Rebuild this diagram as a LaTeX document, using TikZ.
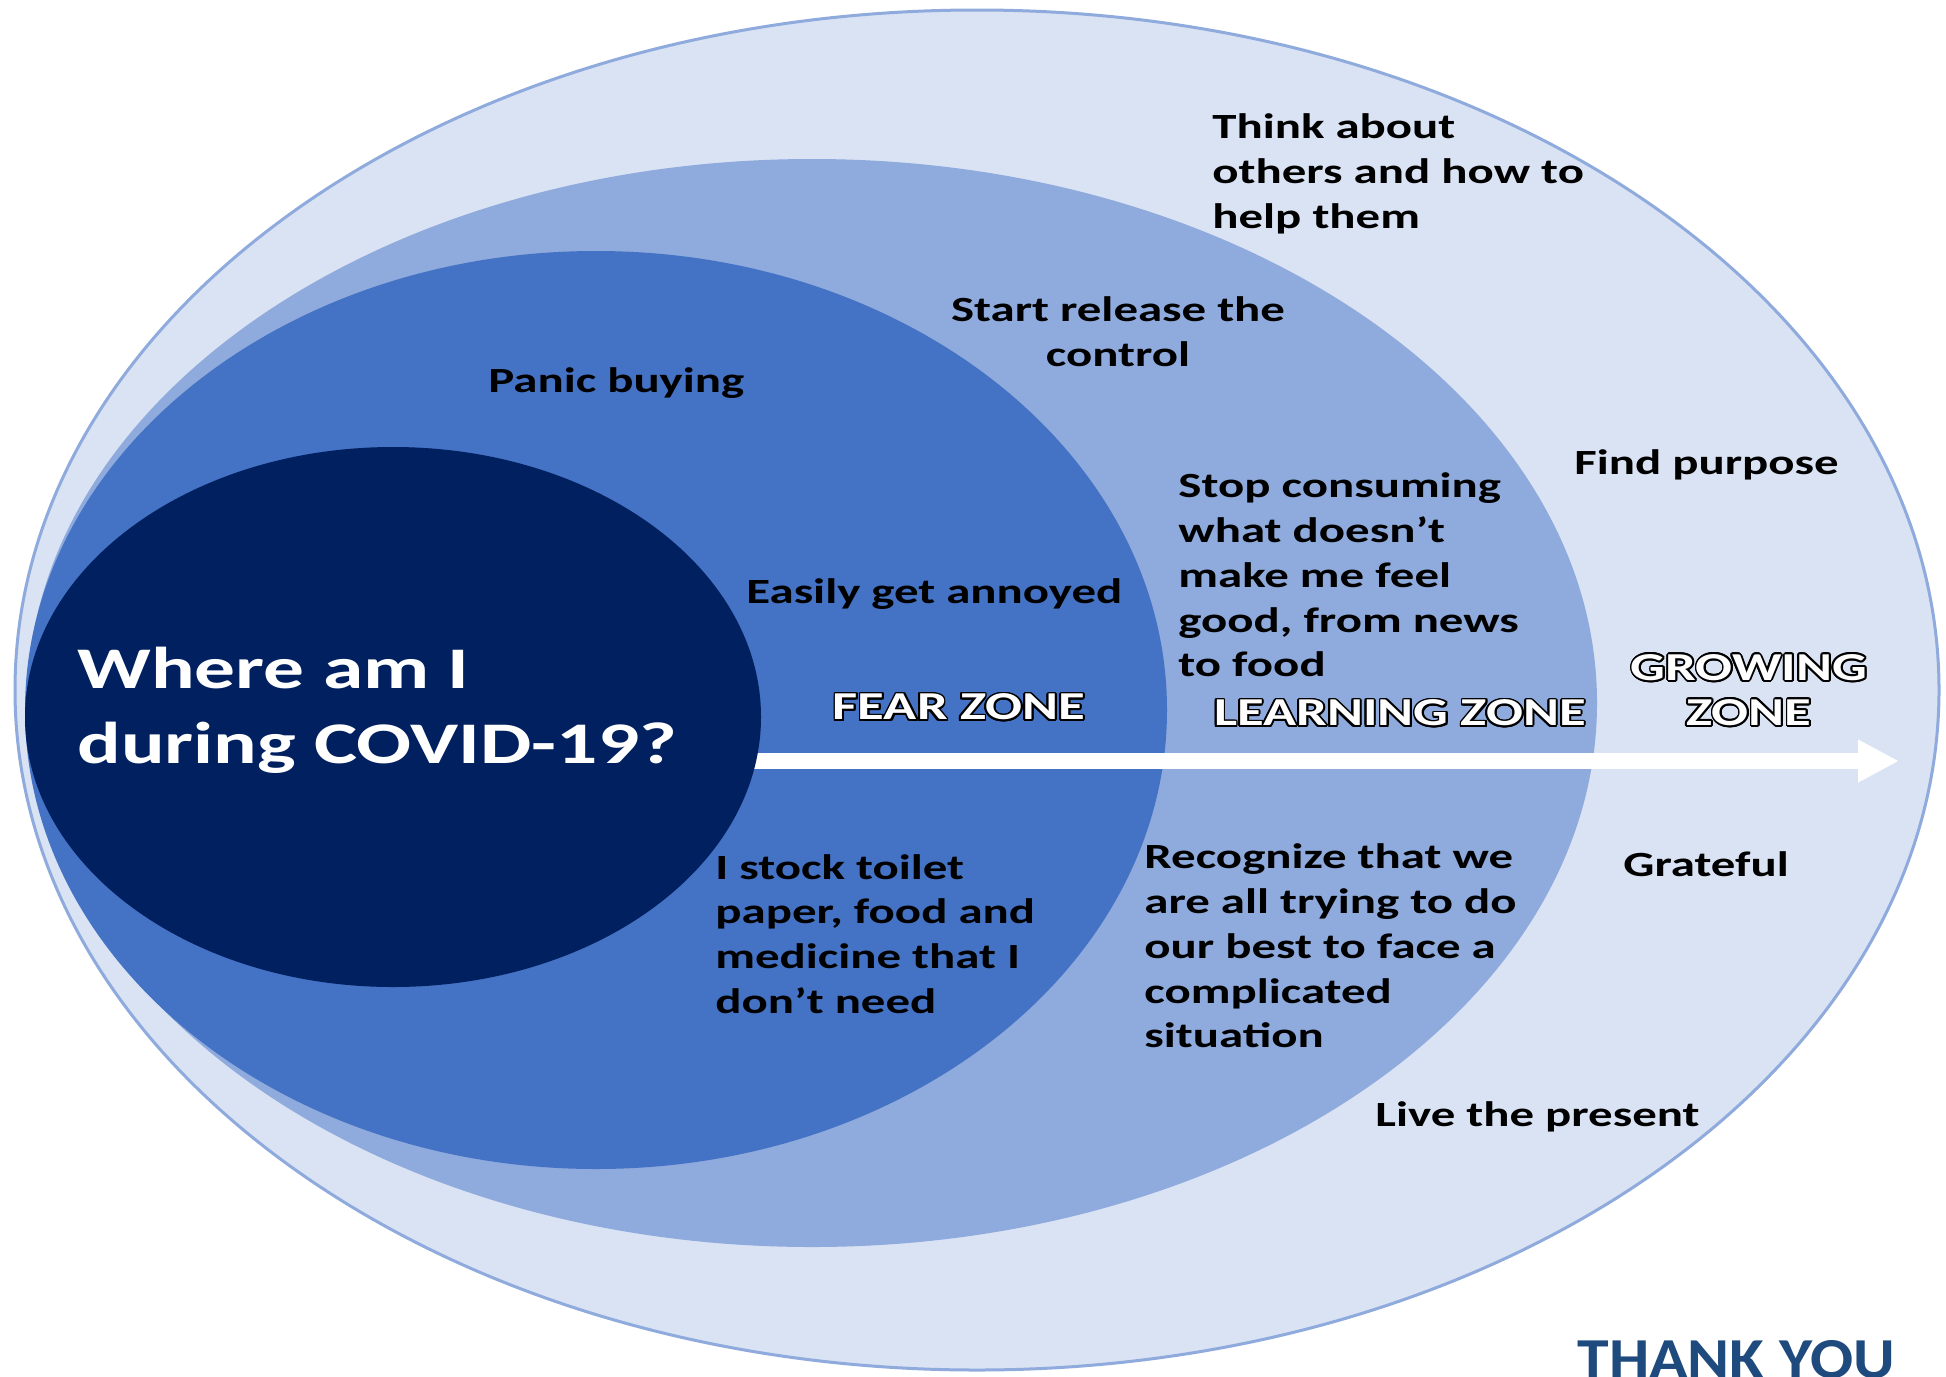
\documentclass[tikz,border=0pt]{standalone}
\usepackage{fontspec}
\setmainfont{Carlito}[FakeStretch=1.38]
\newfontfamily\tyfont{Carlito}[FakeStretch=1.1]
\usepackage{contour}
\contourlength{0.9pt}
\usetikzlibrary{shapes.geometric,arrows.meta}
\definecolor{outerc}{HTML}{DAE3F3}
\definecolor{learnc}{HTML}{8FAADC}
\definecolor{fearc}{HTML}{4472C4}
\definecolor{innerc}{HTML}{002060}
\definecolor{tyc}{RGB}{31,74,126}
\tikzset{
  zone/.style={ellipse, inner sep=0pt, draw=none},
  txt/.style={font=\bfseries\fontsize{17.7}{22.4}\selectfont, align=left, inner sep=0pt, anchor=west, text=black},
  ctxt/.style={txt, align=center, anchor=center},
  zlab/.style={font=\bfseries\fontsize{19.8}{22.4}\selectfont, align=center, inner sep=0pt, text=white},
  title/.style={font=\bfseries\fontsize{29.5}{37.5}\selectfont, align=left, inner sep=0pt, anchor=west, text=white},
  bigarrow/.style={draw=white, line width=8pt, -{Triangle[length=20.5pt,width=20pt]}}
}
\begin{document}
\begin{tikzpicture}[x=0.5pt,y=-0.5pt]
\clip (0,0) rectangle (1946,1376);
\fill[white] (0,0) rectangle (1946,1376);
% zones
\node[zone, fill=outerc, draw=learnc, line width=1.5pt, minimum width=962pt, minimum height=680pt] (grow) at (977,690) {};
\node[zone, fill=learnc, minimum width=785pt, minimum height=544pt] (learn) at (812,703) {};
\node[zone, fill=fearc, minimum width=571pt, minimum height=459pt] (fear) at (596,710) {};
\coordinate (tip) at (1899,761);
\draw[bigarrow] (fear.center |- tip) -- (tip);
\node[zone, fill=innerc, minimum width=368pt, minimum height=270pt] (inner) at (393,717) {};
% title
\node[title] (q) at (77,710) {Where am I\\during COVID-19?};
% texts
\node[txt] (think) at (1212,174) {Think about\\others and how to\\help them};
\node[ctxt] (start) at (1118,332) {Start release the\\control};
\node[txt] (panic) at (488,383) {Panic buying};
\node[txt] (find) at (1574,465) {Find purpose};
\node[txt] (stop) at (1178,575) {Stop consuming\\what doesn’t\\make me feel\\good, from news\\to food};
\node[txt] (easy) at (746,594) {Easily get annoyed};
\node[txt] (stock) at (715,934) {I stock toilet\\paper, food and\\medicine that I\\don’t need};
\node[txt] (recog) at (1144,946) {Recognize that we\\are all trying to do\\our best to face a\\complicated\\situation};
\node[txt] (grate) at (1623,864) {Grateful};
\node[txt] (live) at (1375,1117) {Live the present};
% zone labels
\node[zlab] (lfear) at (959,708) {\contour{black}{FEAR ZONE}};
\node[zlab] (llearn) at (1400,714) {\contour{black}{LEARNING ZONE}};
\node[zlab] (lgrow) at (1749,691) {\contour{black}{GROWING}\\\contour{black}{ZONE}};
% thank you
\node[font=\tyfont\bfseries\fontsize{29}{30}\selectfont, text=tyc, inner sep=0pt, anchor=north west] (ty) at (1577,1340) {THANK YOU};
\end{tikzpicture}
\end{document}
